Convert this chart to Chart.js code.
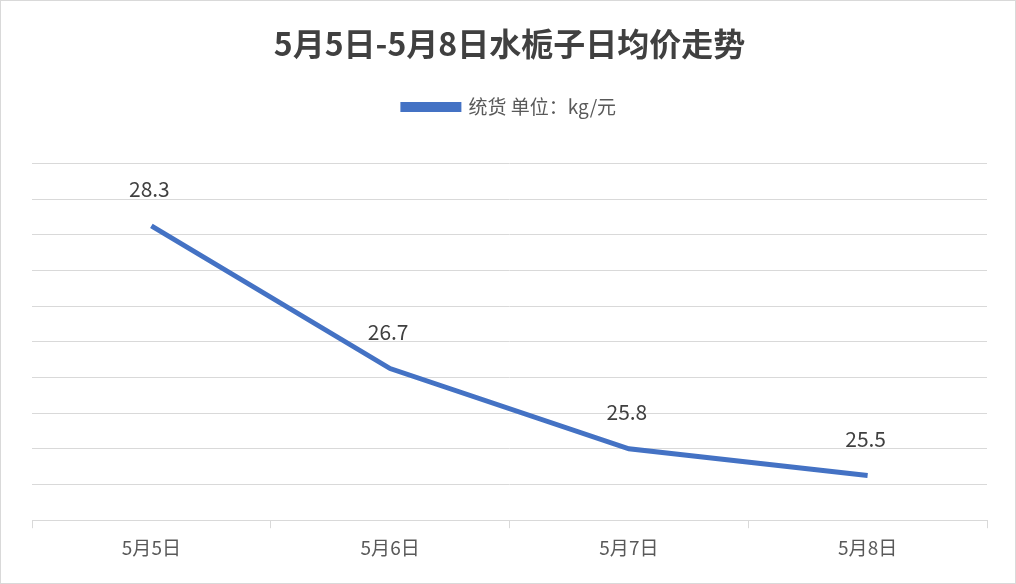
<!DOCTYPE html>
<html><head><meta charset="utf-8">
<script src="https://cdn.jsdelivr.net/npm/chart.js@4"></script>
<style>body{margin:0;background:#fff}#w{position:absolute;left:0;top:0;width:1016px;height:584px;box-sizing:border-box;border:1px solid #d9d9d9}</style>
</head><body><div id="w"><canvas id="c" width="1014" height="582"></canvas></div>
<script>
const categories=["5月5日","5月6日","5月7日","5月8日"];
const values=[28.3,26.7,25.8,25.5];
const seriesName="统货 单位：kg/元";
const yMin=25, yMax=29, yStep=0.4;
const labelPlugin={id:'lbl',afterDatasetsDraw(ch){const ctx=ch.ctx;const m=ch.getDatasetMeta(0);ctx.save();ctx.font='21px "Noto Sans CJK SC", sans-serif';ctx.fillStyle='#404040';ctx.textAlign='center';ctx.textBaseline='bottom';m.data.forEach((p,i)=>ctx.fillText(values[i].toFixed(1),p.x-2,p.y-26));ctx.restore();}};
const legendGap={id:'lg',beforeInit(ch){const f=ch.legend.fit;ch.legend.fit=function(){f.call(this);this.height+=37;};}};
new Chart(document.getElementById('c'),{type:'line',data:{labels:categories,datasets:[{label:seriesName,data:values,borderColor:'#4472c4',backgroundColor:'#4472c4',borderWidth:5,pointRadius:0,tension:0}]},
options:{responsive:false,animation:false,layout:{padding:{left:31,right:28,top:8,bottom:16}},
plugins:{title:{display:true,text:'5月5日-5月8日水栀子日均价走势',font:{size:32,weight:'bold',family:'"Noto Sans CJK SC", sans-serif'},color:'#404040',padding:{top:16,bottom:14}},
legend:{labels:{font:{size:19,family:'"Noto Sans CJK SC", sans-serif'},color:'#595959',boxWidth:56,boxHeight:5,padding:20}}},
scales:{x:{offset:true,grid:{display:true,drawOnChartArea:false,tickLength:8,color:'#d9d9d9',offset:true},border:{color:'#d9d9d9'},ticks:{font:{size:19,family:'"Noto Sans CJK SC", sans-serif'},color:'#595959',padding:8}},
y:{min:yMin,max:yMax,ticks:{display:false,stepSize:yStep},grid:{color:'#d9d9d9',drawTicks:false},border:{display:false}}}},
plugins:[legendGap,labelPlugin]});
</script></body></html>
